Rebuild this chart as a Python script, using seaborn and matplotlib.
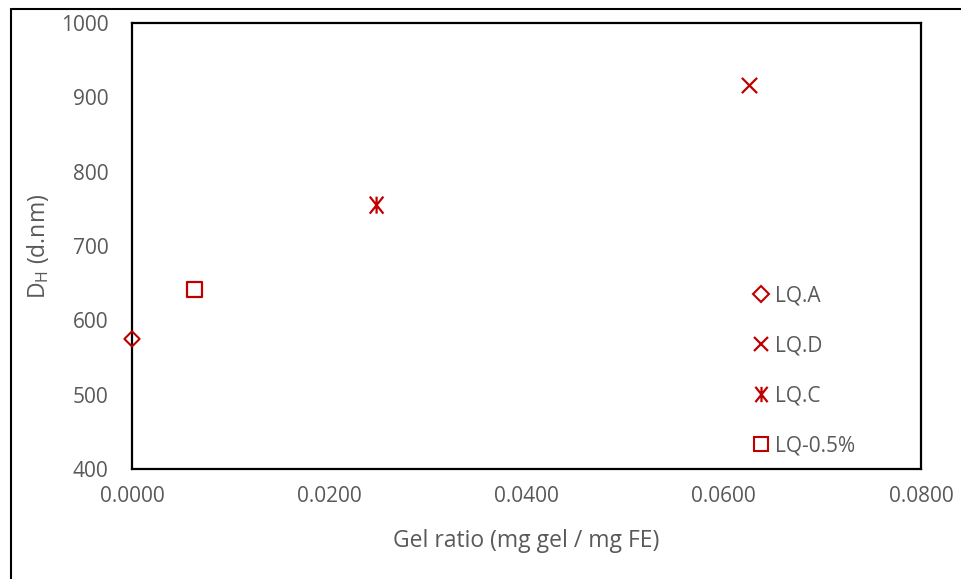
import numpy as np
import pandas as pd
import matplotlib
matplotlib.use("Agg")
import matplotlib.pyplot as plt
from matplotlib.path import Path
from matplotlib.lines import Line2D
import seaborn as sns

# Data
series = ["LQ.A", "LQ.D", "LQ.C", "LQ-0.5%"]
gel_ratio = [0.0000, 0.0626, 0.0248, 0.0063]
dh_nm = [575, 917, 755, 642]

sns.set_theme(style="white")
plt.rcParams['font.family'] = ['Open Sans', 'DejaVu Sans']
plt.rcParams['mathtext.fontset'] = 'custom'
plt.rcParams['mathtext.rm'] = 'Open Sans'
plt.rcParams['mathtext.it'] = 'Open Sans'

RED = "#C00000"
GREY = "#595959"

# asterisk marker: x plus vertical bar
ast = Path([(-0.4, -0.5), (0.4, 0.5), (-0.4, 0.5), (0.4, -0.5), (0, -0.5), (0, 0.5)],
           [Path.MOVETO, Path.LINETO, Path.MOVETO, Path.LINETO, Path.MOVETO, Path.LINETO])

marker_spec = {
    "LQ.A": dict(marker="D", s=60, facecolors="none", edgecolors=RED, linewidths=1.5),
    "LQ.D": dict(marker="x", s=120, color=RED, linewidths=1.6),
    "LQ.C": dict(marker=ast, s=150, facecolors="none", edgecolors=RED, linewidths=1.6),
    "LQ-0.5%": dict(marker="s", s=115, facecolors="none", edgecolors=RED, linewidths=1.6),
}

df = pd.DataFrame({"series": series, "x": gel_ratio, "y": dh_nm})

fig = plt.figure(figsize=(9.61, 5.79), dpi=100)
ax = fig.add_axes([132/961, 1-469/579, (921-132)/961, (469-23)/579])

for name in series:
    sub = df[df["series"] == name]
    sns.scatterplot(data=sub, x="x", y="y", ax=ax, clip_on=False, zorder=5, **marker_spec[name])

ax.set_xlim(0, 0.08)
ax.set_ylim(400, 1000)
ax.set_xticks([0, 0.02, 0.04, 0.06, 0.08])
ax.set_xticklabels([f"{v:.4f}" for v in [0, 0.02, 0.04, 0.06, 0.08]])
ax.set_yticks([400, 500, 600, 700, 800, 900, 1000])
ax.tick_params(axis='y', direction='in', length=6, width=1.5, color='black', labelsize=15, labelcolor=GREY, pad=17)
ax.tick_params(axis='x', length=0, labelsize=15, labelcolor=GREY, pad=12)
for sp in ax.spines.values():
    sp.set_color("black")
    sp.set_linewidth(1.6)

ax.set_xlabel("Gel ratio (mg gel / mg FE)", fontsize=16.5, color=GREY, labelpad=16)
ax.set_ylabel(r"D$_\mathrm{H}$ (d.nm)", fontsize=16.5, color=GREY, labelpad=7)

handles = []
for name in series:
    sp = marker_spec[name]
    mk = sp["marker"]
    if name in ("LQ.A", "LQ-0.5%"):
        h = Line2D([], [], linestyle="none", marker=mk, markersize=8 if mk == "D" else 10,
                   markerfacecolor="none", markeredgecolor=RED, markeredgewidth=1.5)
    else:
        h = Line2D([], [], linestyle="none", marker=mk, markersize=10 if mk == "x" else 11,
                   markerfacecolor="none", markeredgecolor=RED, markeredgewidth=1.6)
    handles.append(h)
leg = ax.legend(handles, series, loc="lower left", bbox_to_anchor=(0.774, 0.01),
                frameon=False, fontsize=15, labelspacing=1.39, handletextpad=0.15,
                handlelength=1.0, borderaxespad=0)
for t in leg.get_texts():
    t.set_color(GREY)

# outer frame
fig.add_artist(Line2D([11/961, 11/961], [0, 1-9/579], color="black", lw=1.5, transform=fig.transFigure))
fig.add_artist(Line2D([11/961, 1], [1-9/579, 1-9/579], color="black", lw=1.5, transform=fig.transFigure))

fig.savefig("out.png", dpi=100)
